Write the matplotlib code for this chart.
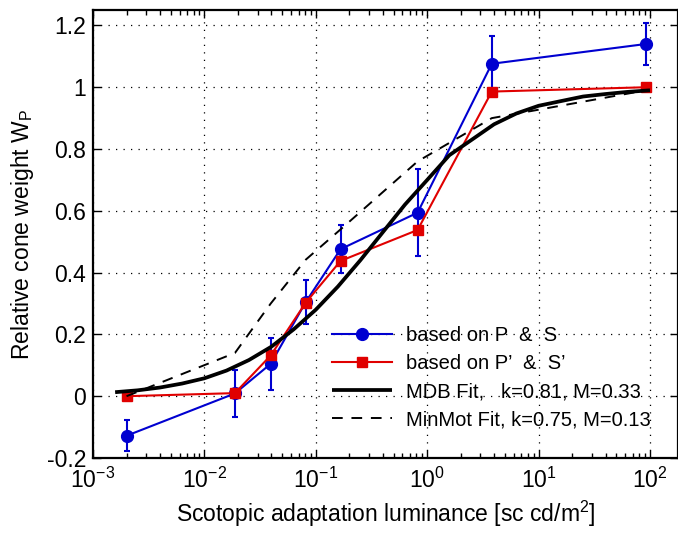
import matplotlib
matplotlib.use("Agg")
import matplotlib.pyplot as plt
from matplotlib.ticker import FixedLocator, LogLocator, NullFormatter

plt.rcParams['font.family'] = ['Liberation Sans', 'DejaVu Sans']
plt.rcParams['mathtext.fontset'] = 'custom'
plt.rcParams['mathtext.rm'] = 'Liberation Sans'
plt.rcParams['mathtext.it'] = 'Liberation Sans:italic'
plt.rcParams['mathtext.bf'] = 'Liberation Sans:bold'

# ---- data ----
lum = [0.002, 0.0188, 0.0394, 0.0813, 0.167, 0.82, 3.8, 92]
w_ps = [-0.128, 0.009, 0.105, 0.305, 0.476, 0.594, 1.076, 1.14]
err_ps = [0.05, 0.077, 0.085, 0.072, 0.078, 0.14, 0.089, 0.068]
w_ps_prime = [0.0, 0.01, 0.132, 0.303, 0.438, 0.538, 0.986, 1.0]

mdb_lum = [0.00158, 0.00251, 0.00398, 0.00631, 0.01, 0.0158, 0.0251, 0.0398,
           0.0631, 0.1, 0.158, 0.251, 0.398, 0.631, 1.0, 1.58, 2.51, 3.98,
           6.31, 10.0, 15.8, 25.1, 39.8, 63.1, 100.0]
mdb_w = [0.013, 0.019, 0.028, 0.041, 0.058, 0.083, 0.117, 0.16,
         0.216, 0.28, 0.355, 0.44, 0.53, 0.62, 0.70, 0.78, 0.83, 0.88,
         0.915, 0.94, 0.955, 0.97, 0.978, 0.985, 0.99]

minmot_lum = [0.002, 0.0188, 0.0394, 0.0813, 0.167, 0.82, 3.8, 92]
minmot_w = [0.0, 0.14, 0.30, 0.442, 0.54, 0.76, 0.90, 0.99]

ytick_vals = [-0.2, 0, 0.2, 0.4, 0.6, 0.8, 1.0, 1.2]
ytick_labels = ['-0.2', '0', '0.2', '0.4', '0.6', '0.8', '1', '1.2']

labels = ['based on P  &  S', 'based on P\u2019  &  S\u2019',
          'MDB Fit,   k=0.81, M=0.33', 'MinMot Fit, k=0.75, M=0.13']

BLUE = '#0000D0'
RED = '#E00000'

fig = plt.figure(figsize=(6.78, 5.33), dpi=100)
ax = fig.add_axes([93/678, 1 - 458/533, 1 - 93/678, 448/533])

ax.errorbar(lum, w_ps, yerr=err_ps, fmt='none', ecolor=BLUE,
            capsize=2.2, elinewidth=1.5, capthick=1.5, zorder=3)
h1, = ax.plot(lum, w_ps, color=BLUE, lw=1.5, marker='o', ms=8.5,
              mec=BLUE, mfc=BLUE, label=labels[0], zorder=3)
h2, = ax.plot(lum, w_ps_prime, color=RED, lw=1.5, marker='s', ms=7,
              mec=RED, mfc=RED, label=labels[1], zorder=4)
h3, = ax.plot(mdb_lum, mdb_w, color='black', lw=2.7, label=labels[2],
              zorder=5, solid_capstyle='butt')
h4, = ax.plot(minmot_lum, minmot_w, color='black', lw=1.4, ls=(0, (5.5, 4.5)),
              label=labels[3], zorder=5)

ax.set_xscale('log')
ax.set_xlim(1e-3, 10 ** (2 + 28 / 111.4))
ax.set_ylim(-0.2, 1.25)

ax.xaxis.set_major_locator(LogLocator(base=10, numticks=10))
ax.xaxis.set_minor_locator(LogLocator(base=10, subs=range(2, 10), numticks=20))
ax.xaxis.set_minor_formatter(NullFormatter())
ax.yaxis.set_major_locator(FixedLocator(ytick_vals))
ax.set_yticklabels(ytick_labels)

ax.tick_params(which='both', direction='in', top=True, right=True,
               labelsize=16.5, width=1.0)
ax.tick_params(which='major', length=6)
ax.tick_params(which='minor', length=3.5)
ax.tick_params(axis='x', pad=7)
ax.tick_params(axis='y', pad=5)

for s in ax.spines.values():
    s.set_linewidth(1.6)

ax.grid(True, which='major', color='black', ls=(0, (1, 5)), lw=0.9)
ax.set_axisbelow(True)

ax.set_xlabel('Scotopic adaptation luminance [sc cd/m$^2$]', fontsize=16.5,
              labelpad=4)
ax.set_ylabel('Relative cone weight W$_\\mathrm{P}$', fontsize=16.5,
              labelpad=8)

leg = ax.legend(handles=[h1, h2, h3, h4], labels=labels,
                loc='upper left', bbox_to_anchor=(0.408, 0.294),
                frameon=False, fontsize=14.5, handlelength=3.0,
                handletextpad=0.7, labelspacing=0.45, borderpad=0,
                borderaxespad=0)

fig.savefig('out.png', dpi=100)
